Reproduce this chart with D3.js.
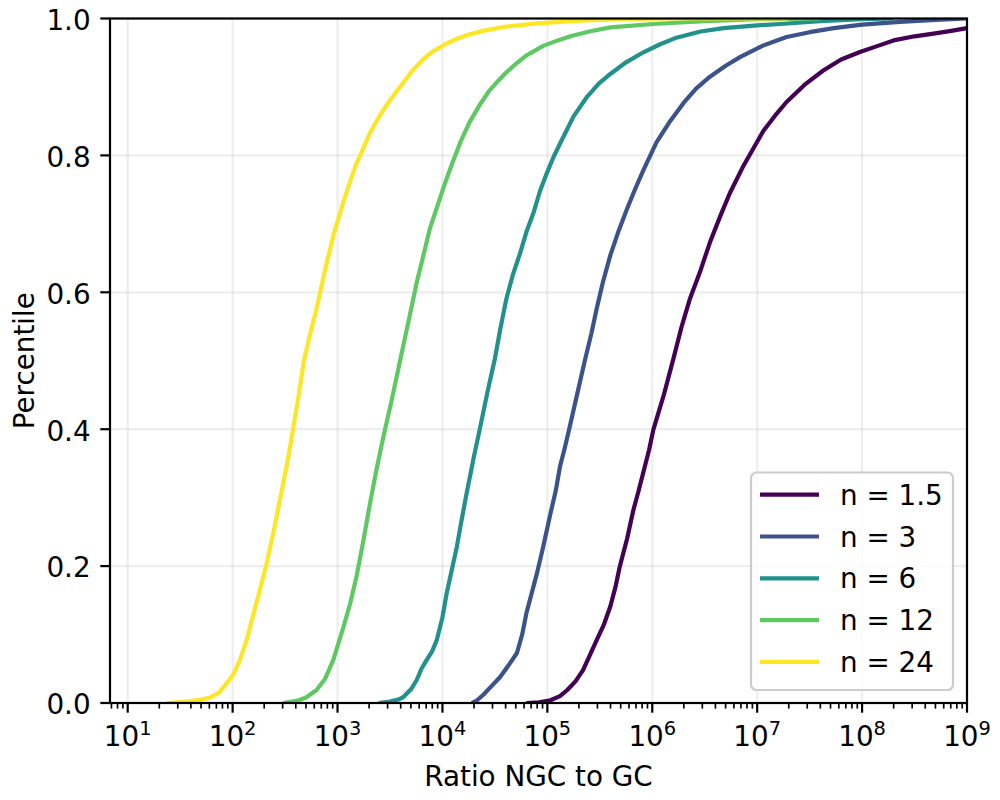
<!DOCTYPE html>
<html>
<head>
<meta charset="utf-8">
<script src="https://cdn.jsdelivr.net/npm/d3@7"></script>
<style>
  html, body { margin: 0; padding: 0; background: #fff; }
  svg { display: block; font-family: "DejaVu Sans", sans-serif; }
</style>
</head>
<body>
<svg id="chart" width="1000" height="800"></svg>
<script>
// ---- Data (x values are log10 of the ratio) ----
const seriesLabels = ["n = 1.5", "n = 3", "n = 6", "n = 12", "n = 24"];
const seriesColors = ["#440154", "#3b528b", "#21918c", "#5ec962", "#fde725"];

const n1_5_log10Ratio = [4.80,4.92,5.03,5.12,5.19,5.27,5.34,5.40,5.47,5.54,5.60,5.65,5.69,5.76,5.82,5.87,5.92,5.97,6.01,6.11,6.20,6.28,6.36,6.46,6.55,6.65,6.74,6.87,6.97,7.06,7.17,7.28,7.45,7.63,7.80,7.98,8.15,8.30,8.50,8.68,8.85,9.0,9.2];
const n1_5_pct        = [0,0.001,0.004,0.010,0.019,0.032,0.048,0.068,0.092,0.115,0.141,0.170,0.199,0.240,0.282,0.310,0.340,0.370,0.399,0.450,0.502,0.550,0.591,0.632,0.673,0.712,0.745,0.785,0.812,0.836,0.858,0.878,0.903,0.924,0.940,0.951,0.960,0.968,0.974,0.978,0.982,0.986,0.989];

const n3_log10Ratio = [4.28,4.33,4.39,4.47,4.55,4.63,4.71,4.76,4.80,4.85,4.90,4.96,5.03,5.08,5.12,5.17,5.22,5.29,5.36,5.42,5.47,5.53,5.60,5.68,5.76,5.84,5.92,6.04,6.17,6.30,6.42,6.55,6.70,6.84,7.05,7.28,7.50,7.73,8.00,8.36,8.70,9.0];
const n3_pct        = [0,0.004,0.012,0.025,0.038,0.055,0.073,0.100,0.131,0.160,0.189,0.228,0.277,0.310,0.345,0.375,0.408,0.455,0.502,0.540,0.576,0.615,0.654,0.690,0.722,0.752,0.780,0.819,0.850,0.877,0.898,0.915,0.931,0.944,0.960,0.973,0.980,0.986,0.991,0.995,0.998,1.0];

const n6_log10Ratio = [3.39,3.50,3.58,3.63,3.70,3.756,3.80,3.85,3.90,3.946,4.00,4.04,4.09,4.137,4.18,4.23,4.30,4.36,4.43,4.50,4.55,4.61,4.67,4.74,4.80,4.87,4.93,5.00,5.06,5.12,5.25,5.38,5.49,5.60,5.75,5.92,6.07,6.23,6.46,6.68,7.00,7.22,7.60,8.00,8.30];
const n6_pct        = [0,0.002,0.005,0.009,0.020,0.034,0.050,0.063,0.075,0.092,0.125,0.160,0.195,0.228,0.265,0.306,0.360,0.403,0.455,0.503,0.545,0.591,0.625,0.657,0.688,0.717,0.748,0.776,0.798,0.817,0.857,0.886,0.905,0.919,0.936,0.951,0.962,0.972,0.981,0.986,0.990,0.992,0.996,0.999,1.0];

const n12_log10Ratio = [2.48,2.61,2.70,2.80,2.88,2.96,3.056,3.12,3.18,3.25,3.31,3.37,3.437,3.52,3.60,3.68,3.756,3.82,3.88,3.95,4.01,4.09,4.17,4.26,4.36,4.44,4.52,4.60,4.68,4.80,4.96,5.10,5.22,5.40,5.60,6.01,6.50,7.00,7.60];
const n12_pct        = [0,0.003,0.008,0.019,0.035,0.063,0.111,0.145,0.184,0.240,0.292,0.340,0.389,0.445,0.503,0.560,0.615,0.655,0.693,0.725,0.753,0.787,0.819,0.849,0.875,0.893,0.907,0.920,0.931,0.946,0.960,0.968,0.974,0.981,0.987,0.992,0.996,0.999,1.0];

const n24_log10Ratio = [1.37,1.56,1.70,1.785,1.87,1.944,2.00,2.07,2.14,2.20,2.26,2.325,2.39,2.45,2.52,2.58,2.63,2.68,2.74,2.80,2.88,2.96,3.056,3.12,3.18,3.25,3.31,3.39,3.47,3.55,3.63,3.72,3.82,3.91,4.01,4.13,4.26,4.42,4.60,4.90,5.30,5.70,6.20,7.30];
const n24_pct        = [0,0.002,0.005,0.008,0.015,0.029,0.040,0.063,0.095,0.131,0.165,0.204,0.250,0.296,0.350,0.403,0.450,0.500,0.540,0.576,0.632,0.683,0.732,0.762,0.788,0.812,0.833,0.855,0.874,0.891,0.907,0.925,0.941,0.952,0.961,0.970,0.977,0.983,0.988,0.993,0.997,0.999,1.0,1.0];

const seriesX = [n1_5_log10Ratio, n3_log10Ratio, n6_log10Ratio, n12_log10Ratio, n24_log10Ratio];
const seriesY = [n1_5_pct, n3_pct, n6_pct, n12_pct, n24_pct];

const xTickExponents = [1,2,3,4,5,6,7,8,9];
const yTickValues = [0, 0.2, 0.4, 0.6, 0.8, 1.0];
const xDomain = [6.78, 1e9];
const yDomain = [0, 1];
const xLabel = "Ratio NGC to GC";
const yLabel = "Percentile";

// ---- Layout ----
const FS = 27.8;
const pLeft = 110, pRight = 967, pTop = 18.5, pBottom = 703;
const svg = d3.select("#chart");

const x = d3.scaleLog().domain(xDomain).range([pLeft, pRight]);
const y = d3.scaleLinear().domain(yDomain).range([pBottom, pTop]);

// grid
const grid = svg.append("g");
xTickExponents.forEach(e => {
  grid.append("line").attr("x1", x(Math.pow(10, e))).attr("x2", x(Math.pow(10, e)))
    .attr("y1", pTop).attr("y2", pBottom)
    .attr("stroke", "#b0b0b0").attr("stroke-opacity", 0.22).attr("stroke-width", 2.2);
});
yTickValues.forEach(v => {
  grid.append("line").attr("x1", pLeft).attr("x2", pRight)
    .attr("y1", y(v)).attr("y2", y(v))
    .attr("stroke", "#b0b0b0").attr("stroke-opacity", 0.22).attr("stroke-width", 2.2);
});

// clip
svg.append("defs").append("clipPath").attr("id", "plotclip")
  .append("rect").attr("x", pLeft).attr("y", pTop).attr("width", pRight - pLeft).attr("height", pBottom - pTop);

const line = d3.line().x(d => x(Math.pow(10, d[0]))).y(d => y(d[1]));
const lines = svg.append("g").attr("clip-path", "url(#plotclip)");
seriesX.forEach((xs, i) => {
  const pts = xs.map((v, j) => [v, seriesY[i][j]]);
  lines.append("path").datum(pts).attr("d", line)
    .attr("fill", "none").attr("stroke", seriesColors[i])
    .attr("stroke-width", 4.2).attr("stroke-linejoin", "round").attr("stroke-linecap", "butt");
});

// x axis ticks (major + minor)
const axisG = svg.append("g");
const minorVals = [];
for (let d = 0; d <= 8; d++) for (let k = 2; k <= 9; k++) {
  const v = k * Math.pow(10, d);
  if (v >= xDomain[0] && v <= xDomain[1]) minorVals.push(v);
}
minorVals.forEach(v => {
  axisG.append("line").attr("x1", x(v)).attr("x2", x(v)).attr("y1", pBottom).attr("y2", pBottom + 5.6)
    .attr("stroke", "#000").attr("stroke-width", 1.67);
});
xTickExponents.forEach(e => {
  const px = x(Math.pow(10, e));
  axisG.append("line").attr("x1", px).attr("x2", px).attr("y1", pBottom).attr("y2", pBottom + 9.7)
    .attr("stroke", "#000").attr("stroke-width", 2.2);
  const t = axisG.append("text").attr("x", px).attr("y", 746).attr("text-anchor", "middle")
    .attr("font-size", FS).attr("fill", "#000");
  t.append("tspan").text("10");
  t.append("tspan").attr("dy", -11).attr("font-size", FS * 0.7).text(String(e));
});
// y axis ticks
yTickValues.forEach(v => {
  axisG.append("line").attr("x1", pLeft - 9.7).attr("x2", pLeft).attr("y1", y(v)).attr("y2", y(v))
    .attr("stroke", "#000").attr("stroke-width", 2.2);
  axisG.append("text").attr("x", pLeft - 19.4).attr("y", y(v) + 11.3).attr("text-anchor", "end")
    .attr("font-size", FS).attr("fill", "#000").text(v.toFixed(1));
});

// spines
svg.append("rect").attr("x", pLeft).attr("y", pTop).attr("width", pRight - pLeft).attr("height", pBottom - pTop)
  .attr("fill", "none").attr("stroke", "#000").attr("stroke-width", 2.2);

// axis labels
svg.append("text").attr("x", (pLeft + pRight) / 2).attr("y", 786).attr("text-anchor", "middle")
  .attr("font-size", FS).attr("fill", "#000").text(xLabel);
svg.append("text").attr("transform", `translate(34,${(pTop + pBottom) / 2}) rotate(-90)`)
  .attr("text-anchor", "middle").attr("font-size", FS).attr("fill", "#000").text(yLabel);

// legend
const lg = svg.append("g");
lg.append("rect").attr("x", 751).attr("y", 472.5).attr("width", 202).attr("height", 217.5)
  .attr("rx", 5.5).attr("fill", "#fff").attr("fill-opacity", 0.8)
  .attr("stroke", "#cccccc").attr("stroke-width", 2.2);
seriesLabels.forEach((lab, i) => {
  const ly = 494.7 + i * 41.8;
  lg.append("line").attr("x1", 760).attr("x2", 819).attr("y1", ly).attr("y2", ly)
    .attr("stroke", seriesColors[i]).attr("stroke-width", 4.2);
  lg.append("text").attr("x", 840).attr("y", ly + 10).attr("font-size", FS).attr("fill", "#000").text(lab);
});
</script>
</body>
</html>
